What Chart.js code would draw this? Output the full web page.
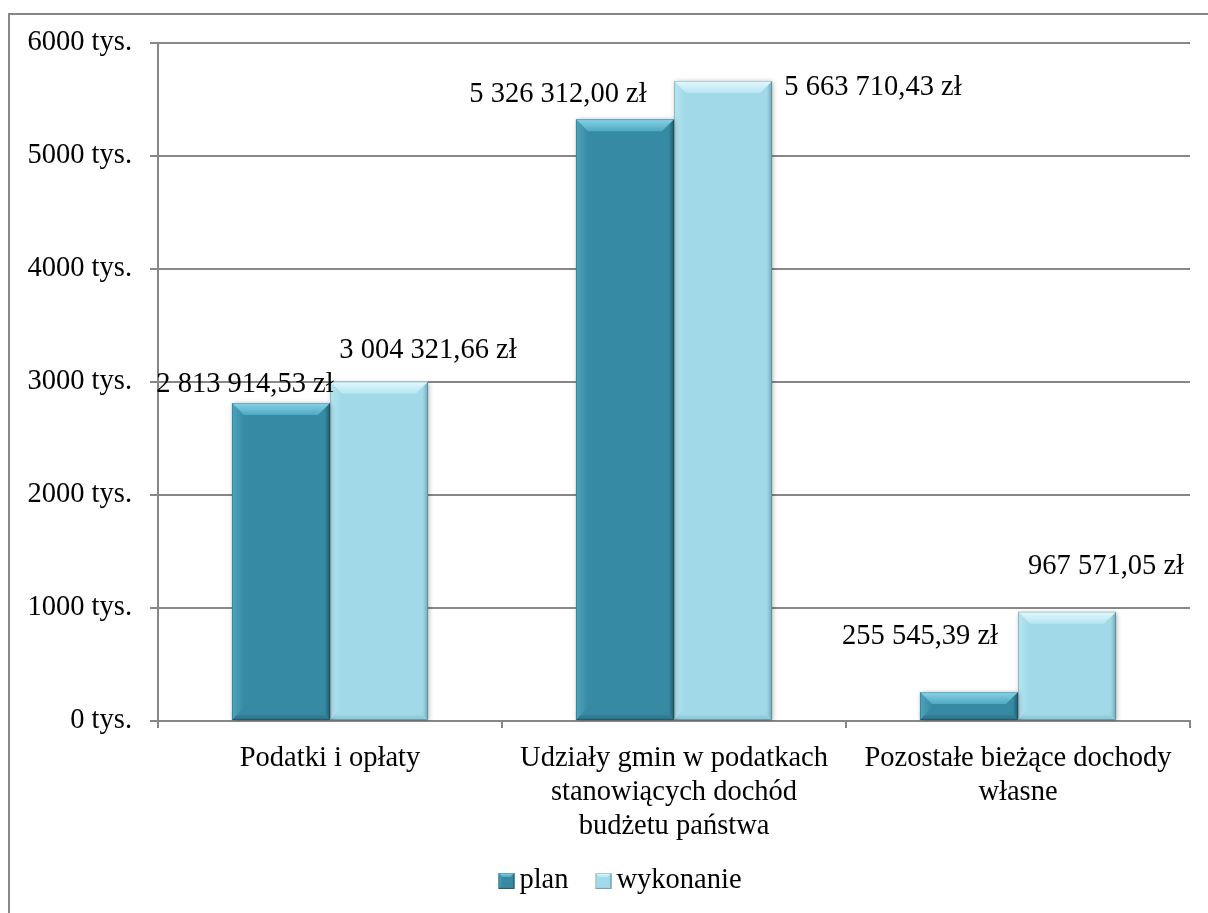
<!DOCTYPE html>
<html>
<head>
<meta charset="utf-8">
<script src="https://cdn.jsdelivr.net/npm/chart.js@4"></script>
<style>
  body { margin: 0; background: #fff; }
  #wrap { position: relative; width: 1208px; height: 913px; }
</style>
</head>
<body>
<div id="wrap"><canvas id="myChart"></canvas></div>
<script>
// data
const categories = [
    ['Podatki i opłaty'],
    ['Udziały gmin w podatkach', 'stanowiących dochód', 'budżetu państwa'],
    ['Pozostałe bieżące dochody', 'własne']
];
const seriesNames = ['plan', 'wykonanie'];
const planValues = [2813914.53, 5326312.00, 255545.39];
const wykonanieValues = [3004321.66, 5663710.43, 967571.05];
const yTicks = [0, 1000, 2000, 3000, 4000, 5000, 6000]; // tys.

// where excel put each value label, relative to the top centre of its bar
const labelShift = [
    [[-36, -19], [49, -31]],
    [[-67, -25], [150, 7]],
    [[-49, -56], [39, -45]]
];

const FONT = '"Liberation Serif", "Times New Roman", serif';
const FSIZE = 28.5;
const GRAY = '#878787';

const looks = [
    { base: '#378AA3', top: '#8AD3E6', topIn: '#4FA9C2', left: '#4FA3BB', right: '#1F5E70', bottom: '#286E82' },
    { base: '#A1D9E8', top: '#E2F8FD', topIn: '#B7E6F2', left: '#B5E4F0', right: '#74A9B8', bottom: '#86BFCE' }
];

function zl(v) {
    let parts = v.toFixed(2).split('.');
    let intPart = parts[0].replace(/\B(?=(\d{3})+(?!\d))/g, ' ');
    return intPart + ',' + parts[1] + ' zł';
}

function drawBevel(ctx, left, top, right, bottom, look, maxB) {
    let b = Math.min(maxB, (bottom - top) / 2, (right - left) / 2);
    let g;
    // left
    g = ctx.createLinearGradient(left, 0, left + b, 0);
    g.addColorStop(0, look.left); g.addColorStop(1, look.base);
    ctx.fillStyle = g;
    ctx.beginPath();
    ctx.moveTo(left, top); ctx.lineTo(left + b, top + b); ctx.lineTo(left + b, bottom - b); ctx.lineTo(left, bottom);
    ctx.closePath(); ctx.fill();
    // right
    g = ctx.createLinearGradient(right, 0, right - b, 0);
    g.addColorStop(0, look.right); g.addColorStop(0.45, look.base); g.addColorStop(1, look.base);
    ctx.fillStyle = g;
    ctx.beginPath();
    ctx.moveTo(right, top); ctx.lineTo(right - b, top + b); ctx.lineTo(right - b, bottom - b); ctx.lineTo(right, bottom);
    ctx.closePath(); ctx.fill();
    // bottom
    g = ctx.createLinearGradient(0, bottom, 0, bottom - b);
    g.addColorStop(0, look.bottom); g.addColorStop(0.5, look.base); g.addColorStop(1, look.base);
    ctx.fillStyle = g;
    ctx.beginPath();
    ctx.moveTo(left, bottom); ctx.lineTo(left + b, bottom - b); ctx.lineTo(right - b, bottom - b); ctx.lineTo(right, bottom);
    ctx.closePath(); ctx.fill();
    // top
    g = ctx.createLinearGradient(0, top, 0, top + b);
    g.addColorStop(0, look.top); g.addColorStop(1, look.topIn);
    ctx.fillStyle = g;
    ctx.beginPath();
    ctx.moveTo(left, top); ctx.lineTo(right, top); ctx.lineTo(right - b, top + b); ctx.lineTo(left + b, top + b);
    ctx.closePath(); ctx.fill();
    // thin outline
    ctx.strokeStyle = 'rgba(0,0,0,0.18)';
    ctx.lineWidth = 1;
    ctx.strokeRect(left + 0.5, top + 0.5, right - left - 1, bottom - top - 1);
}

const frame = {
    id: 'frame',
    beforeDraw(chart) {
        let ctx = chart.ctx;
        ctx.save();
        ctx.fillStyle = '#fff';
        ctx.fillRect(0, 0, chart.width, chart.height);
        ctx.strokeStyle = GRAY;
        ctx.lineWidth = 2;
        ctx.beginPath();
        ctx.moveTo(9, chart.height);
        ctx.lineTo(9, 14);
        ctx.lineTo(chart.width, 14);
        ctx.stroke();
        ctx.restore();
    },
    afterDraw(chart) {
        // legend like excel: small bevelled box, text close to it
        let ctx = chart.ctx;
        ctx.save();
        ctx.font = FSIZE + 'px ' + FONT;
        ctx.textBaseline = 'middle';
        ctx.textAlign = 'left';
        let box = 16, gap = 5, between = 27;
        let total = 0;
        chart.data.datasets.forEach(function(ds, i) {
            total += box + gap + ctx.measureText(ds.label).width + (i > 0 ? between : 0);
        });
        let x = 620 - total / 2;
        let y = 881;
        chart.data.datasets.forEach(function(ds, i) {
            if (i > 0) x += between;
            ctx.save();
            ctx.fillStyle = looks[i].base;
            ctx.fillRect(x, y - box / 2, box, box);
            drawBevel(ctx, x, y - box / 2, x + box, y + box / 2, looks[i], 4);
            ctx.restore();
            x += box + gap;
            ctx.fillStyle = '#000';
            ctx.fillText(ds.label, x, y);
            x += ctx.measureText(ds.label).width;
        });
        ctx.restore();
    }
};

const bevelBars = {
    id: 'bevelBars',
    beforeDatasetDraw(chart) {
        let ctx = chart.ctx;
        ctx.save();
        ctx.shadowColor = 'rgba(0,0,0,0.35)';
        ctx.shadowBlur = 5;
        ctx.shadowOffsetX = 1;
        ctx.shadowOffsetY = 1;
    },
    afterDatasetDraw(chart, args) {
        let ctx = chart.ctx;
        ctx.restore();
        let look = looks[args.index];
        args.meta.data.forEach(function(bar) {
            let p = bar.getProps(['x', 'y', 'base', 'width'], true);
            ctx.save();
            drawBevel(ctx, p.x - p.width / 2, p.y, p.x + p.width / 2, p.base, look, 12);
            ctx.restore();
        });
    },
    afterDatasetsDraw(chart) {
        let ctx = chart.ctx;
        ctx.save();
        ctx.font = FSIZE + 'px ' + FONT;
        ctx.fillStyle = '#000';
        ctx.textAlign = 'center';
        ctx.textBaseline = 'middle';
        chart.data.datasets.forEach(function(ds, di) {
            chart.getDatasetMeta(di).data.forEach(function(bar, i) {
                let s = labelShift[i][di];
                ctx.fillText(zl(ds.data[i]), bar.x + s[0], bar.y + s[1]);
            });
        });
        ctx.restore();
    }
};

let chart = new Chart('myChart', {
    type: 'bar',
    data: {
        labels: categories,
        datasets: [{
            label: seriesNames[0],
            data: planValues,
            backgroundColor: looks[0].base,
            categoryPercentage: 0.57,
            barPercentage: 1
        }, {
            label: seriesNames[1],
            data: wykonanieValues,
            backgroundColor: looks[1].base,
            categoryPercentage: 0.57,
            barPercentage: 1
        }]
    },
    options: {
        responsive: true,
        maintainAspectRatio: false,
        animation: false,
        devicePixelRatio: 1,
        layout: { padding: { top: 43, right: 18, bottom: 56, left: 0 } },
        plugins: {
            tooltip: { enabled: false },
            legend: { display: false }
        },
        scales: {
            x: {
                grid: { drawOnChartArea: false, drawTicks: true, tickLength: 7, color: GRAY, lineWidth: 2 },
                border: { display: true, color: GRAY, width: 2 },
                ticks: {
                    color: '#000',
                    padding: 13,
                    maxRotation: 0,
                    autoSkip: false,
                    font: { family: FONT, size: FSIZE, lineHeight: 1.2 }
                },
                afterFit(scale) { scale.height = 136; }
            },
            y: {
                min: 0,
                max: 6000000,
                afterBuildTicks(scale) { scale.ticks = yTicks.map(v => ({ value: v * 1000 })); },
                grid: { color: GRAY, lineWidth: 2, drawTicks: true, tickLength: 8 },
                border: { display: true, color: GRAY, width: 2 },
                ticks: {
                    color: '#000',
                    padding: 18,
                    font: { family: FONT, size: FSIZE },
                    callback: v => (v / 1000) + ' tys.'
                },
                afterFit(scale) { scale.width = 158; }
            }
        }
    },
    plugins: [frame, bevelBars]
});
</script>
</body>
</html>
